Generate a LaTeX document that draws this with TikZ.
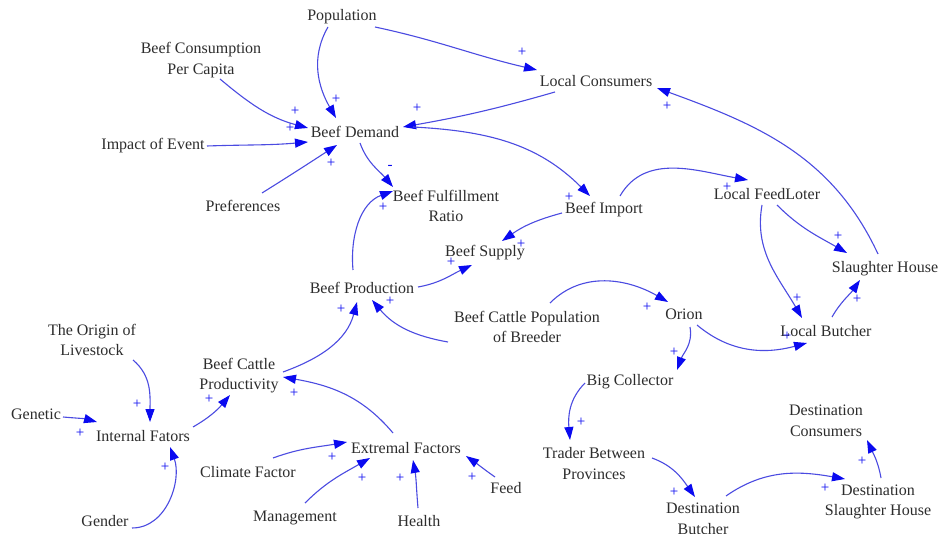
\documentclass[tikz,border=0pt]{standalone}
\usepackage{fontspec}
\setmainfont{Liberation Serif}
\usetikzlibrary{arrows.meta}
\definecolor{linkblue}{RGB}{75,75,225}
\definecolor{headblue}{RGB}{10,10,240}
\definecolor{txtgray}{RGB}{45,45,45}
\begin{document}
\begin{tikzpicture}[x=1pt,y=1pt,
  var/.style={inner sep=1pt, font=\fontsize{16}{20.5}\selectfont, text=txtgray, align=center},
  link/.style={draw=linkblue, line width=1.1pt, -{Triangle[length=13pt,width=9pt,color=headblue]}},
  pol/.style={inner sep=0pt, text=headblue, font=\fontsize{15}{15}\selectfont}]
\fill[white] (0,0) rectangle (939,533);
\useasboundingbox (0,0) rectangle (939,533);

% variables
\node[var] (pop)     at (342,516)   {Population};
\node[var] (bcpc)    at (201,473)   {Beef Consumption\\Per Capita};
\node[var] (impact)  at (153,387)   {Impact of Event};
\node[var] (dem)     at (355,401)   {Beef Demand};
\node[var] (pref)    at (243,327)   {Preferences};
\node[var] (lcons)   at (596,452)   {Local Consumers};
\node[var] (bfr)     at (446,327)   {Beef Fulfillment\\Ratio};
\node[var] (imp)     at (604,323)   {Beef Import};
\node[var] (sup)     at (485,280)   {Beef Supply};
\node[var] (feed)    at (767,339)   {Local FeedLoter};
\node[var] (slh)     at (885,264)   {Slaughter House};
\node[var] (prod)    at (362,245)   {Beef Production};
\node[var] (bcpb)    at (527,206)   {Beef Cattle Population\\of Breeder};
\node[var] (orion)   at (684,219)   {Orion};
\node[var] (lbut)    at (826,202)   {Local Butcher};
\node[var] (bigc)    at (630,151)   {Big Collector};
\node[var] (origin)  at (92,193)    {The Origin of\\Livestock};
\node[var] (bcp)     at (239,157.5) {Beef Cattle\\Productivity};
\node[var] (genetic) at (36,119)    {Genetic};
\node[var] (intf)    at (143,97)    {Internal Fators};
\node[var] (gender)  at (105,12)    {Gender};
\node[var] (climate) at (248,61)    {Climate Factor};
\node[var] (mgmt)    at (295,15)    {Management};
\node[var] (extf)    at (406,85)    {Extremal Factors};
\node[var] (health)  at (419,12)    {Health};
\node[var] (feedn)   at (506,45)    {Feed};
\node[var] (trader)  at (594,69.5)  {Trader Between\\Provinces};
\node[var] (dcons)   at (826,112)   {Destination\\Consumers};
\node[var] (dbut)    at (703,14)    {Destination\\Butcher};
\node[var] (dslh)    at (878,31)    {Destination\\Slaughter House};

% links
\draw[link] ([shift={(-14,-10)}]pop.center) to[out=240,in=120] ([shift={(-19,14)}]dem.center);
\draw[link] ([shift={(33,-10)}]pop.center) to[out=-12,in=167] ([shift={(-59,11)}]lcons.center);
\draw[link] ([shift={(19,-19)}]bcpc.center) to[out=-40,in=165] ([shift={(-47,4)}]dem.center);
\draw[link] ([shift={(54,0)}]impact.center) to[out=2,in=185] ([shift={(-47,-10)}]dem.center);
\draw[link] ([shift={(19,13)}]pref.center) to[out=32,in=213] ([shift={(-18,-13)}]dem.center);
\draw[link] ([shift={(-41,-11)}]lcons.center) to[out=196,in=10] ([shift={(48,5)}]dem.center);
\draw[link] ([shift={(5,-11)}]dem.center) to[out=-70,in=130] ([shift={(-53,19)}]bfr.center);
\draw[link] ([shift={(58,5)}]dem.center) to[out=-3,in=135] ([shift={(-14,14)}]imp.center);
\draw[link] ([shift={(-9,18)}]prod.center) to[out=95,in=200] ([shift={(-53,15)}]bfr.center);
\draw[link] ([shift={(-42,-3)}]imp.center) to[out=195,in=35] ([shift={(17,12)}]sup.center);
\draw[link] ([shift={(56,1)}]prod.center) to[out=10,in=205] ([shift={(-13,-12)}]sup.center);
\draw[link] ([shift={(16,14)}]imp.center) to[out=60,in=170] ([shift={(-19,14)}]feed.center);
\draw[link] ([shift={(10,-11)}]feed.center) to[out=-45,in=150] ([shift={(-38,16)}]slh.center);
\draw[link] ([shift={(-5,-11)}]feed.center) to[out=-100,in=120] ([shift={(-24,13)}]lbut.center);
\draw[link] ([shift={(6,14)}]lbut.center) to[out=60,in=235] ([shift={(-25,-11)}]slh.center);
\draw[link] ([shift={(-7,15)}]slh.center) to[out=115,in=-20] ([shift={(61,-7)}]lcons.center);
\draw[link] ([shift={(23,24)}]bcpb.center) to[out=45,in=150] ([shift={(-16,12)}]orion.center);
\draw[link] ([shift={(-79,-15)}]bcpb.center) to[out=170,in=-50] ([shift={(10,-12)}]prod.center);
\draw[link] ([shift={(13,-11)}]orion.center) to[out=-40,in=195] ([shift={(-19,-12)}]lbut.center);
\draw[link] ([shift={(6,-13)}]orion.center) to[out=-80,in=70] ([shift={(47,12)}]bigc.center);
\draw[link] ([shift={(-45,-1)}]bigc.center) to[out=-135,in=95] ([shift={(-24,23.5)}]trader.center);
\draw[link] ([shift={(58,5.5)}]trader.center) to[out=-20,in=125] ([shift={(-8,22)}]dbut.center);
\draw[link] ([shift={(23,23)}]dbut.center) to[out=35,in=170] ([shift={(-33,23)}]dslh.center);
\draw[link] ([shift={(3,24)}]dslh.center) to[out=100,in=-65] ([shift={(41,-19)}]dcons.center);
\draw[link] ([shift={(44,3.5)}]bcp.center) to[out=20,in=-105] ([shift={(-5,-14)}]prod.center);
\draw[link] ([shift={(-13,15)}]extf.center) to[out=130,in=-10] ([shift={(44,-1.5)}]bcp.center);
\draw[link] ([shift={(41,-20)}]origin.center) to[out=-40,in=90] ([shift={(7,14)}]intf.center);
\draw[link] ([shift={(27,-3)}]genetic.center) to[out=-5,in=165] ([shift={(-46,14)}]intf.center);
\draw[link] ([shift={(27,-7)}]gender.center) to[out=0,in=-70] ([shift={(27,-11)}]intf.center);
\draw[link] ([shift={(50,9)}]intf.center) to[out=30,in=230] ([shift={(-9,-19.5)}]bcp.center);
\draw[link] ([shift={(25,14)}]climate.center) to[out=20,in=190] ([shift={(-59,6)}]extf.center);
\draw[link] ([shift={(10,15)}]mgmt.center) to[out=45,in=210] ([shift={(-36,-10)}]extf.center);
\draw[link] ([shift={(-1,13)}]health.center) to[out=95,in=-80] ([shift={(7,-12)}]extf.center);
\draw[link] ([shift={(-11,11)}]feedn.center) to[out=145,in=-35] ([shift={(60,-8)}]extf.center);

% polarities
\node[pol] (p1)  at (336,434) {+};
\node[pol] (p2)  at (522,481) {+};
\node[pol] (p3)  at (295,422) {+};
\node[pol] (p4)  at (290,405) {+};
\node[pol] (p5)  at (331,370) {+};
\node[pol] (p6)  at (417,425) {+};
\node[pol] (p7)  at (390,366) {-};
\node[pol] (p8)  at (569,336) {+};
\node[pol] (p9)  at (383,326) {+};
\node[pol] (p10) at (521,289) {+};
\node[pol] (p11) at (451,271) {+};
\node[pol] (p12) at (727,346) {+};
\node[pol] (p13) at (838,297) {+};
\node[pol] (p14) at (797,235) {+};
\node[pol] (p15) at (857,234) {+};
\node[pol] (p16) at (667,427) {+};
\node[pol] (p17) at (647,226) {+};
\node[pol] (p18) at (390,232) {+};
\node[pol] (p19) at (787,197) {+};
\node[pol] (p20) at (674,181) {+};
\node[pol] (p21) at (581,111) {+};
\node[pol] (p22) at (674,41)  {+};
\node[pol] (p23) at (825,45)  {+};
\node[pol] (p24) at (862,72)  {+};
\node[pol] (p25) at (341,224) {+};
\node[pol] (p26) at (294,140) {+};
\node[pol] (p27) at (137,129) {+};
\node[pol] (p28) at (80,100)  {+};
\node[pol] (p29) at (165,66)  {+};
\node[pol] (p30) at (209,134) {+};
\node[pol] (p31) at (332,76)  {+};
\node[pol] (p32) at (362,55)  {+};
\node[pol] (p33) at (400,55)  {+};
\node[pol] (p34) at (472,56)  {+};
\end{tikzpicture}
\end{document}
